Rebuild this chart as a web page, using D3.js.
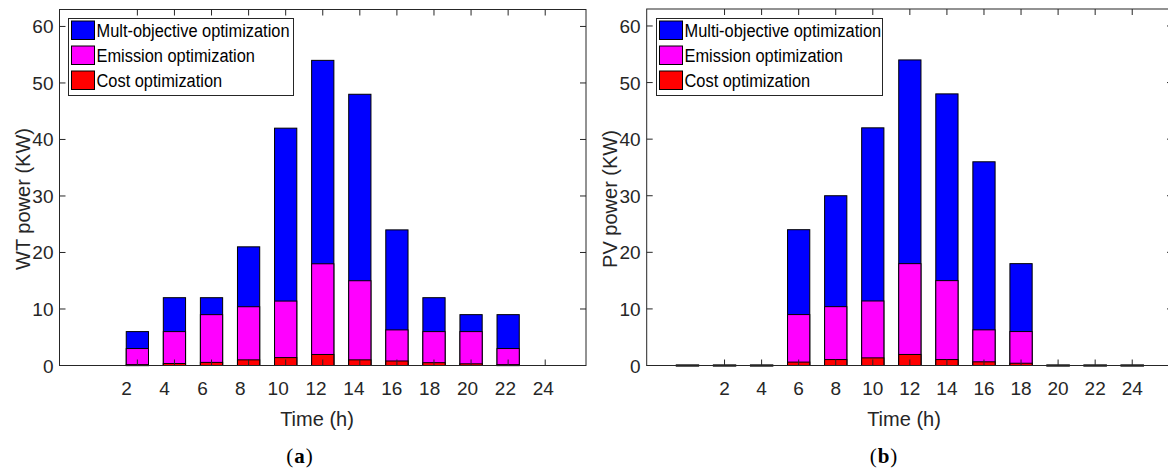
<!DOCTYPE html>
<html>
<head>
<meta charset="utf-8">
<script src="https://cdn.jsdelivr.net/npm/d3@7"></script>
<style>
  html, body { margin: 0; padding: 0; background: #ffffff; }
  svg { display: block; }
</style>
</head>
<body>
<svg id="chart" width="1168" height="473" font-family="'Liberation Sans', Arial, Helvetica, sans-serif"></svg>
<script>
// ---------- data ----------
const hoursA = [2, 4, 6, 8, 10, 12, 14, 16, 18, 20, 22];
const multiA = [6, 12, 12, 21, 42, 54, 48, 24, 12, 9, 9];
const emissionA = [3, 6, 9, 10.4, 11.4, 18, 15, 6.3, 6, 6, 3];
const costA = [0.15, 0.35, 0.55, 1.0, 1.4, 1.95, 1.0, 0.8, 0.5, 0.3, 0.15];

const hoursB = [0, 2, 4, 6, 8, 10, 12, 14, 16, 18, 20, 22, 24];
const multiB = [0, 0, 0, 24, 30, 42, 54, 48, 36, 18, 0, 0, 0];
const emissionB = [0, 0, 0, 9, 10.4, 11.4, 18, 15, 6.3, 6, 0, 0, 0];
const costB = [0, 0, 0, 0.6, 1.05, 1.35, 1.95, 1.05, 0.65, 0.4, 0, 0, 0];

const xTicks = [2, 4, 6, 8, 10, 12, 14, 16, 18, 20, 22, 24];
const yTicks = [0, 10, 20, 30, 40, 50, 60];

const legendA = ["Mult-objective optimization", "Emission optimization", "Cost optimization"];
const legendB = ["Multi-objective optimization", "Emission optimization", "Cost optimization"];
const seriesColors = ["#0000ff", "#ff00ff", "#ff0000"];

// ---------- drawing ----------
const svg = d3.select("#chart");
const axisColor = "#262626";

function panel(cfg) {
  const g = svg.append("g");
  const x = d3.scaleLinear().domain([-2.2, 26.2]).range([cfg.left, cfg.right]);
  const y = d3.scaleLinear().domain([0, 63]).range([cfg.bottom, cfg.top]);
  const barW = x(1.2) - x(0);

  // bars (overlaid, drawn largest first)
  const series = [cfg.multi, cfg.emission, cfg.cost];
  series.forEach((vals, si) => {
    g.append("g").selectAll("rect")
      .data(cfg.hours.map((h, i) => ({ h, v: vals[i] })))
      .join("rect")
      .attr("x", d => x(d.h) - barW / 2)
      .attr("y", d => y(d.v) - (d.v === 0 ? 0.5 : 0))
      .attr("width", barW)
      .attr("height", d => Math.max(1, y(0) - y(d.v)))
      .attr("fill", seriesColors[si])
      .attr("stroke", d => d.v === 0 ? "#444" : "#000")
      .attr("stroke-width", 1);
  });

  // box
  g.append("rect")
    .attr("x", cfg.left).attr("y", cfg.top)
    .attr("width", cfg.right - cfg.left).attr("height", cfg.bottom - cfg.top)
    .attr("fill", "none").attr("stroke", axisColor).attr("stroke-width", 1);

  const tl = 6;
  const xt = g.append("g").attr("stroke", axisColor).attr("stroke-width", 1);
  xTicks.forEach(t => {
    xt.append("line").attr("x1", x(t)).attr("x2", x(t)).attr("y1", y(0)).attr("y2", y(0) - tl);
    xt.append("line").attr("x1", x(t)).attr("x2", x(t)).attr("y1", cfg.top).attr("y2", cfg.top + tl);
  });
  yTicks.forEach(t => {
    xt.append("line").attr("x1", cfg.left).attr("x2", cfg.left + tl).attr("y1", y(t)).attr("y2", y(t));
    xt.append("line").attr("x1", cfg.right).attr("x2", cfg.right - tl).attr("y1", y(t)).attr("y2", y(t));
  });

  // x tick labels
  const lx = d3.scaleLinear().domain([2, 24]).range([x(2) + cfg.labShift0, x(24) + cfg.labShift1]);
  g.append("g").selectAll("text").data(xTicks).join("text")
    .attr("x", d => lx(d)).attr("y", cfg.bottom + 29.5)
    .attr("text-anchor", "middle").attr("font-size", 19).attr("fill", axisColor)
    .text(d => d);

  // y tick labels
  g.append("g").selectAll("text").data(yTicks).join("text")
    .attr("x", cfg.left - 6).attr("y", d => y(d) + 7)
    .attr("text-anchor", "end").attr("font-size", 19).attr("fill", axisColor)
    .text(d => d);

  // axis titles
  g.append("text").attr("x", cfg.xTitleX).attr("y", cfg.bottom + 60)
    .attr("text-anchor", "middle").attr("font-size", 20).attr("fill", axisColor)
    .text("Time (h)");
  g.append("text")
    .attr("transform", `translate(${cfg.left - 30},${cfg.yTitleY}) rotate(-90)`)
    .attr("text-anchor", "middle").attr("font-size", 20).attr("fill", axisColor)
    .text(cfg.yTitle);

  // panel letter
  const pl = g.append("text").attr("x", cfg.letterX).attr("y", 463)
    .attr("text-anchor", "middle").attr("font-size", 21)
    .attr("letter-spacing", 1)
    .attr("font-family", "'Liberation Serif', 'DejaVu Serif', serif").attr("fill", "#000");
  pl.append("tspan").text("(");
  pl.append("tspan").attr("font-weight", "bold").text(cfg.letter);
  pl.append("tspan").text(")");

  // legend
  const lg = g.append("g");
  lg.append("rect")
    .attr("x", cfg.legX).attr("y", 18.5)
    .attr("width", cfg.legW).attr("height", 77)
    .attr("fill", "#fff").attr("stroke", axisColor).attr("stroke-width", 1);
  cfg.legend.forEach((name, i) => {
    lg.append("rect")
      .attr("x", cfg.legX + 3).attr("y", 21 + i * 25)
      .attr("width", 23).attr("height", 18.5)
      .attr("fill", seriesColors[i]).attr("stroke", "#000").attr("stroke-width", 1);
    const t = lg.append("text")
      .attr("x", cfg.legX + 28).attr("y", 36.5 + i * 25)
      .attr("font-size", 18).attr("fill", "#000")
      .text(name);
    const len = t.node().getComputedTextLength();
    t.attr("textLength", len * 0.91).attr("lengthAdjust", "spacingAndGlyphs");
  });
}

panel({
  left: 59.5, right: 586, top: 9.5, bottom: 365.5,
  hours: hoursA, multi: multiA, emission: emissionA, cost: costA,
  labShift0: -10.7, labShift1: -1.9,
  xTitleX: 317, yTitle: "WT power (KW)", yTitleY: 199,
  letter: "a", letterX: 300,
  legend: legendA, legX: 68.5, legW: 225
});

panel({
  left: 646.7, right: 1173, top: 9, bottom: 365.5,
  hours: hoursB, multi: multiB, emission: emissionB, cost: costB,
  labShift0: 0, labShift1: 0,
  xTitleX: 904, yTitle: "PV power (KW)", yTitleY: 199,
  letter: "b", letterX: 884,
  legend: legendB, legX: 656.5, legW: 226
});
</script>
</body>
</html>
